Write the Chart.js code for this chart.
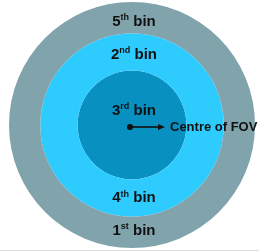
<!DOCTYPE html>
<html lang="en">
<head>
    <meta charset="UTF-8">
    <title>FOV bins</title>
    <style>
        body { margin: 0; background: #ffffff; }
        .container { width: 259px; height: 252px; }
    </style>
</head>
<body>
    <div class="container">
        <canvas id="myChart" width="259" height="252"></canvas>
    </div>
    <script src="https://cdn.jsdelivr.net/npm/chart.js"></script>
    <script>
        // rings from outside to inside (relative thickness)
        const ringNames = ['outer', 'middle', 'inner'];
        const ringWeights = [31, 37, 54];
        const ringColors = ['#80a3ac', '#2ecbfe', '#0890c0'];

        // bin labels: number, superscript, ring index, side (-1 top, 1 bottom)
        const binNumbers = ['5', '2', '3', '4', '1'];
        const binSuffixes = ['th', 'nd', 'rd', 'th', 'st'];
        const binRings = [0, 1, 2, 1, 0];
        const binSides = [-1, -1, -1, 1, 1];

        const centreLabel = 'Centre of FOV';

        const FONT = '"Liberation Sans", Arial, sans-serif';

        const binLabels = {
            id: 'binLabels',
            afterDraw(chart) {
                const ctx = chart.ctx;
                ctx.save();
                // faint rule along the bottom edge
                ctx.fillStyle = '#dddddd';
                ctx.fillRect(0, chart.height - 2, chart.width, 1);

                ctx.fillStyle = '#111111';
                ctx.textBaseline = 'middle';
                binNumbers.forEach((num, i) => {
                    const ring = binRings[i];
                    const arc = chart.getDatasetMeta(ring).data[0];
                    let r;
                    if (ring < 2) {
                        r = (arc.innerRadius + arc.outerRadius) / 2;
                    } else {
                        r = arc.outerRadius * 0.32;
                    }
                    let cy = arc.y + binSides[i] * r;
                    if (binSides[i] < 0) cy += (ring === 0 ? 4 : 3);
                    if (ring === 0 && binSides[i] > 0) cy -= 2;
                    const cx = arc.x + 2;
                    ctx.font = 'bold 15px ' + FONT;
                    const wNum = ctx.measureText(num).width;
                    const wBin = ctx.measureText(' bin').width;
                    ctx.font = 'bold 9px ' + FONT;
                    const wSup = ctx.measureText(binSuffixes[i]).width;
                    let x = cx - (wNum + wSup + wBin) / 2;
                    ctx.textAlign = 'left';
                    ctx.font = 'bold 15px ' + FONT;
                    ctx.fillText(num, x, cy);
                    x += wNum;
                    ctx.font = 'bold 9px ' + FONT;
                    ctx.fillText(binSuffixes[i], x, cy - 4);
                    x += wSup;
                    ctx.font = 'bold 15px ' + FONT;
                    ctx.fillText(' bin', x, cy);
                });

                // centre marker and arrow
                const c = chart.getDatasetMeta(2).data[0];
                const px = c.x - 2, py = c.y + 2;
                ctx.beginPath();
                ctx.arc(px, py, 3, 0, Math.PI * 2);
                ctx.fill();
                ctx.strokeStyle = '#111111';
                ctx.lineWidth = 1.6;
                ctx.beginPath();
                ctx.moveTo(px, py);
                ctx.lineTo(px + 30, py);
                ctx.stroke();
                ctx.beginPath();
                ctx.moveTo(px + 35, py);
                ctx.lineTo(px + 28, py - 3);
                ctx.lineTo(px + 28, py + 3);
                ctx.closePath();
                ctx.fill();
                ctx.font = 'bold 13px ' + FONT;
                ctx.fillText(centreLabel, px + 40, py);
                ctx.restore();
            }
        };

        const data = {
            labels: ['bin'],
            datasets: ringNames.map((name, i) => ({
                label: name,
                data: [1],
                backgroundColor: ringColors[i],
                borderWidth: 0,
                weight: ringWeights[i]
            }))
        };

        const config = {
            type: 'pie',
            data: data,
            options: {
                responsive: false,
                animation: false,
                layout: { padding: { top: 2, bottom: 4, left: 8, right: 3 } },
                plugins: {
                    legend: { display: false },
                    tooltip: { enabled: false }
                }
            },
            plugins: [binLabels]
        };

        const myChart = new Chart(document.getElementById('myChart'), config);
    </script>
</body>
</html>
